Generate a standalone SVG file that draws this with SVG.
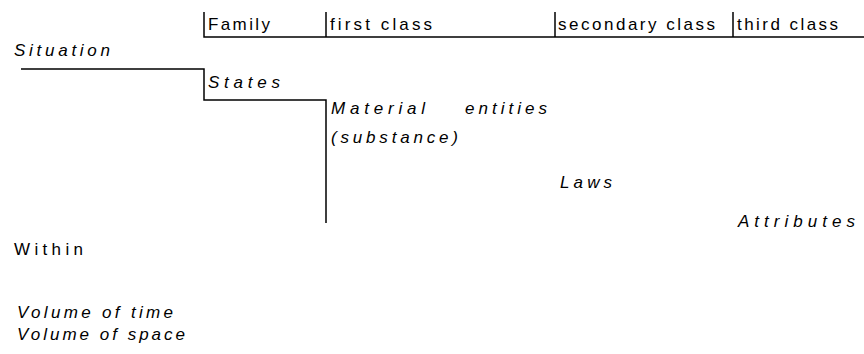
<svg xmlns="http://www.w3.org/2000/svg" width="864" height="354" viewBox="0 0 864 354">
<style>
.t{font-family:"Liberation Sans",Arial,sans-serif;font-size:17px;fill:#000}
.i{font-style:italic}
.ln{stroke:#000;stroke-width:1.5;fill:none}
</style>
<rect width="864" height="354" fill="#fff"/>
<g id="connectors">
<path class="ln" d="M204,12 V37 H864"/>
<path class="ln" d="M326,12 V37"/>
<path class="ln" d="M555,12 V37"/>
<path class="ln" d="M733,12 V37"/>
<path class="ln" d="M21,69 H204 V100 H326 V223"/>
</g>
<g id="header">
<text class="t" x="208" y="30" textLength="62" lengthAdjust="spacing">Family</text>
<text class="t" x="330" y="30" textLength="102" lengthAdjust="spacing">first class</text>
<text class="t" x="558" y="30" textLength="157" lengthAdjust="spacing">secondary class</text>
<text class="t" x="737" y="30" textLength="101" lengthAdjust="spacing">third class</text>
</g>
<g id="situation"><text class="t i" x="14" y="56" textLength="96" lengthAdjust="spacing">Situation</text></g>
<g id="states"><text class="t i" x="208" y="88" textLength="72" lengthAdjust="spacing">States</text></g>
<g id="material"><text class="t i" x="331" y="114" textLength="94" lengthAdjust="spacing">Material</text><text class="t i" x="465" y="114" textLength="82" lengthAdjust="spacing">entities</text><text class="t i" x="331" y="143" textLength="127" lengthAdjust="spacing">(substance)</text></g>
<g id="laws"><text class="t i" x="560" y="188" textLength="52" lengthAdjust="spacing">Laws</text></g>
<g id="attributes"><text class="t i" x="738" y="227" textLength="117" lengthAdjust="spacing">Attributes</text></g>
<g id="within"><text class="t" x="14" y="255" textLength="69" lengthAdjust="spacing">Within</text></g>
<g id="volumes"><text class="t i" x="17" y="318" textLength="156" lengthAdjust="spacing">Volume of time</text><text class="t i" x="17" y="340" textLength="168" lengthAdjust="spacing">Volume of space</text></g>
</svg>
